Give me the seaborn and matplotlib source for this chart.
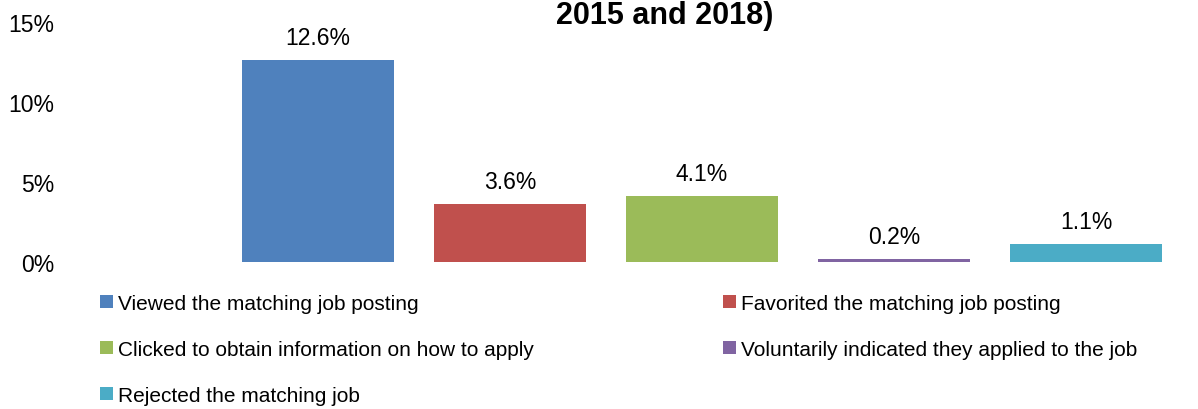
import matplotlib
matplotlib.use("Agg")
import matplotlib.pyplot as plt
import pandas as pd
import seaborn as sns
from matplotlib.patches import Patch

# Daten
categories = [
    "Viewed the matching job posting",
    "Favorited the matching job posting",
    "Clicked to obtain information on how to apply",
    "Voluntarily indicated they applied to the job",
    "Rejected the matching job",
]
values = [12.6, 3.6, 4.1, 0.2, 1.1]
colors = ["#4F81BD", "#C0504D", "#9BBB59", "#8064A2", "#4BACC6"]
y_ticks = [0, 5, 10, 15]
title_text = "2015 and 2018)"

df = pd.DataFrame({"category": categories, "value": values})

sns.set_style("white")
plt.rcParams["font.family"] = ["Liberation Sans", "DejaVu Sans"]
plt.rcParams["text.color"] = "black"
plt.rcParams["ytick.color"] = "black"

fig = plt.figure(figsize=(11.98, 4.10), dpi=100)
W, H = 1198, 410
ax = fig.add_axes([70 / W, 1 - 263 / H, (1190 - 70) / W, (263 - 23) / H])

sns.barplot(
    data=df, x="category", y="value", hue="category",
    palette=colors, width=0.79, legend=False, ax=ax,
    saturation=1, linewidth=0,
)

for cont in ax.containers:
    ax.bar_label(cont, fmt="%.1f%%", padding=8, fontsize=16.5, color="black")

ax.set_ylim(0, 15)
ax.set_yticks(y_ticks)
ax.set_yticklabels([f"{t}%" for t in y_ticks], fontsize=16.5)
ax.set_xlim(-1.29, 4.54)
ax.set_xticks([])
ax.set_xlabel("")
ax.set_ylabel("")
ax.tick_params(axis="y", length=0, pad=11)
sns.despine(ax=ax, left=True, bottom=True)

# Titel (im Original oben abgeschnitten, nur letzte Zeile sichtbar)
fig.text(665 / W, 1 - 24 / H, title_text, ha="center", va="baseline",
         fontsize=22, fontweight="bold")

# Legende zeilenweise (2 Spalten) -> Reihenfolge fuer spaltenweises Fuellen umstellen
order = [0, 2, 4, 1, 3]
handles = [Patch(facecolor=colors[i], edgecolor="none") for i in order]
labels = [categories[i] for i in order]
fig.legend(
    handles, labels, ncol=2, frameon=False, fontsize=15,
    loc="upper left", bbox_to_anchor=(100 / W, 1 - 295 / H),
    handlelength=0.6, handleheight=0.6, handletextpad=0.25,
    labelspacing=1.3, columnspacing=9.1, borderpad=0, borderaxespad=0,
)

fig.savefig("out.png", dpi=100)
